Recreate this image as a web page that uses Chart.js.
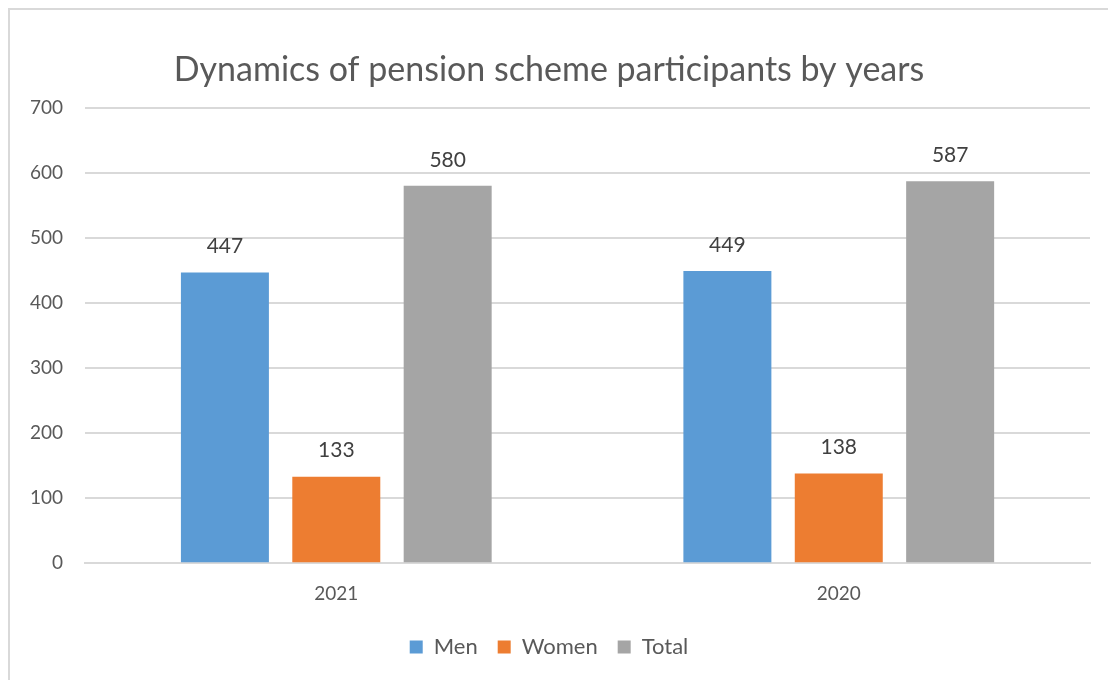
<!DOCTYPE html>
<html>
<head>
<meta charset="utf-8">
<script src="https://cdn.jsdelivr.net/npm/chart.js@4"></script>
<style>
  html, body { margin: 0; padding: 0; background: #fff; }
  #frame { position: absolute; left: 8px; top: 8px; width: 1120px; height: 700px; border: 2px solid #d9d9d9; }
  #wrap { position: absolute; left: 0; top: 0; width: 1108px; height: 680px; }
</style>
</head>
<body>
<div id="frame"></div>
<div id="wrap"><canvas id="grafico"></canvas></div>
<script>
const years = ['2021', '2020'];
const men = [447, 449];
const women = [133, 138];
const total = [580, 587];

// valores encima de cada barra
const etiquetasBarras = {
    id: 'etiquetasBarras',
    afterDatasetsDraw(chart) {
        const ctx = chart.ctx;
        ctx.save();
        ctx.font = '21px Lato';
        ctx.fillStyle = '#404040';
        ctx.textAlign = 'center';
        ctx.textBaseline = 'middle';
        chart.data.datasets.forEach((ds, i) => {
            chart.getDatasetMeta(i).data.forEach((bar, j) => {
                ctx.fillText(ds.data[j], bar.x, bar.y - 26);
            });
        });
        ctx.restore();
    }
};

document.addEventListener("DOMContentLoaded", () => {
    const grafico = document.querySelector("#grafico");

    new Chart(grafico, {
        type: 'bar',
        data: {
            labels: years,
            datasets: [
                { label: 'Men', data: men, backgroundColor: '#5B9BD5' },
                { label: 'Women', data: women, backgroundColor: '#ED7D31' },
                { label: 'Total', data: total, backgroundColor: '#A5A5A5' }
            ]
        },
        options: {
            responsive: true,
            maintainAspectRatio: false,
            animation: false,
            layout: { padding: { left: 8, right: 18, top: 0, bottom: 12 } },
            datasets: {
                bar: { categoryPercentage: 0.665, barPercentage: 0.79 }
            },
            scales: {
                x: {
                    grid: { display: false },
                    border: { display: true, color: '#d9d9d9', width: 2 },
                    ticks: { color: '#595959', font: { family: 'Lato', size: 19 }, padding: 11 }
                },
                y: {
                    min: 0,
                    max: 700,
                    ticks: { stepSize: 100, color: '#595959', font: { family: 'Lato', size: 19 }, padding: 22 },
                    grid: { color: '#d9d9d9', lineWidth: 2, drawTicks: false },
                    border: { display: false }
                }
            },
            plugins: {
                title: {
                    display: true,
                    text: 'Dynamics of pension scheme participants by years',
                    color: '#595959',
                    font: { family: 'Lato', size: 34, weight: 'normal' },
                    padding: { top: 50, bottom: 17 }
                },
                legend: {
                    position: 'bottom',
                    labels: {
                        color: '#595959',
                        font: { family: 'Lato', size: 22 },
                        boxWidth: 13,
                        boxHeight: 13,
                        padding: 20
                    }
                },
                tooltip: { enabled: false }
            }
        },
        plugins: [etiquetasBarras]
    });
});
</script>
</body>
</html>
